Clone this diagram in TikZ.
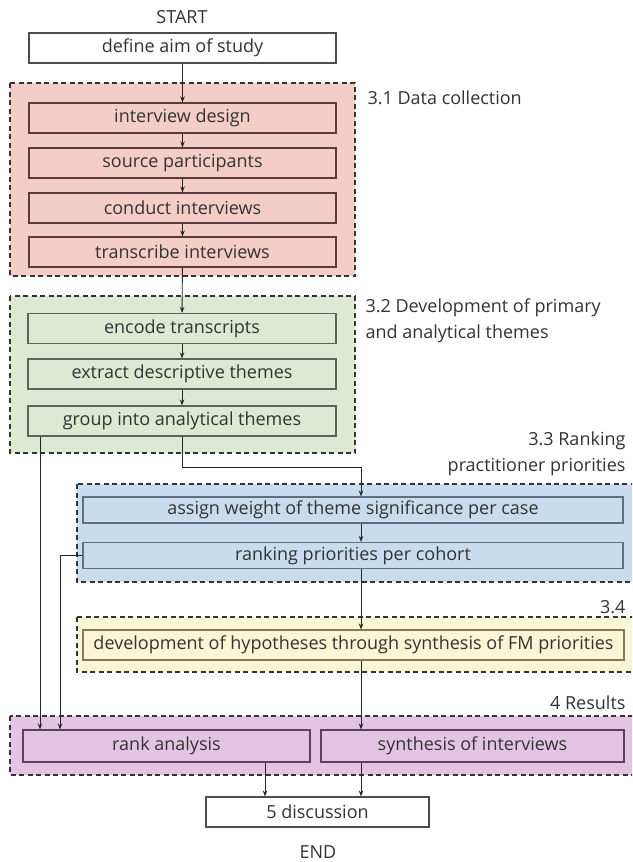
\documentclass[tikz,border=0pt]{standalone}
\usepackage{fontspec}
\setmainfont{Open Sans}
\usetikzlibrary{arrows.meta}

\definecolor{redfill}{HTML}{F4CDC7}
\definecolor{greenfill}{HTML}{DDE9D3}
\definecolor{bluefill}{HTML}{C9DCEE}
\definecolor{yellowfill}{HTML}{FAF5D5}
\definecolor{purplefill}{HTML}{E4C4E5}
\definecolor{redline}{HTML}{5A3C3C}
\definecolor{greenline}{HTML}{56665A}
\definecolor{blueline}{HTML}{5E6E7E}
\definecolor{yellowline}{HTML}{85795A}
\definecolor{purpleline}{HTML}{5C4262}
\definecolor{txt}{HTML}{333333}

\begin{document}
\begin{tikzpicture}[x=1pt, y=-1pt,
  font=\fontsize{18}{21}\selectfont, text=txt,
  box/.style={draw, line width=1.1pt, minimum height=30pt, inner sep=0pt},
  grp/.style={draw=black!80, line width=1.3pt, dash pattern=on 5pt off 3.5pt},
  arr/.style={-{Stealth[length=6pt,width=4.5pt]}, line width=0.9pt, draw=black!85}]
\useasboundingbox (0,0) rectangle (632,862);
\clip (0,0) rectangle (632,862);

% Groups
\draw[grp, fill=redfill] (10,83) rectangle (355,276);
\draw[grp, fill=greenfill] (10,296) rectangle (355,453);
\draw[grp, fill=bluefill] (77,484) rectangle (645,582);
\draw[grp, fill=yellowfill] (77,617) rectangle (645,672);
\draw[grp, fill=purplefill] (10,716) rectangle (645,775);

% Group labels
\node[anchor=west] (l31) at (364,98) {3.1 Data collection};
\node[anchor=north west, align=left, font=\fontsize{18}{26}\selectfont] (l32) at (362,295) {3.2 Development of primary\\and analytical themes};
\node[anchor=east, align=right, font=\fontsize{18}{26}\selectfont] (l33) at (629,454) {3.3 Ranking\\practitioner priorities};
\node[anchor=east] (l34) at (629,607) {3.4};
\node[anchor=east] (l4) at (629,703) {4 Results};

% Start
\node (start) at (182,17) {START};
\node[box, draw=black!70, fill=white, minimum width=307pt] (aim) at (182.5,48) {define aim of study};

% 3.1
\node[box, draw=redline, fill=redfill, minimum width=307pt] (design) at (182.5,118) {interview design};
\node[box, draw=redline, fill=redfill, minimum width=307pt] (source) at (182.5,163) {source participants};
\node[box, draw=redline, fill=redfill, minimum width=307pt] (conduct) at (182.5,208) {conduct interviews};
\node[box, draw=redline, fill=redfill, minimum width=307pt] (transcribe) at (182.5,252) {transcribe interviews};

% 3.2
\node[box, draw=greenline, fill=greenfill, minimum width=308pt] (encode) at (182,328.5) {encode transcripts};
\node[box, draw=greenline, fill=greenfill, minimum width=308pt] (extract) at (182,374) {extract descriptive themes};
\node[box, draw=greenline, fill=greenfill, minimum width=308pt] (group) at (182,421) {group into analytical themes};

% 3.3
\node[box, draw=blueline, fill=bluefill, minimum width=540pt, minimum height=26pt] (assign) at (353,510) {assign weight of theme significance per case};
\node[box, draw=blueline, fill=bluefill, minimum width=540pt, minimum height=26pt] (ranking) at (353,555.5) {ranking priorities per cohort};

% 3.4
\node[box, draw=yellowline, fill=yellowfill, minimum width=541pt] (develop) at (353.5,645) {development of hypotheses through synthesis of FM priorities};

% 4
\node[box, draw=purpleline, fill=purplefill, minimum width=287pt, minimum height=32pt] (rank) at (166.5,746) {rank analysis};
\node[box, draw=purpleline, fill=purplefill, minimum width=303pt, minimum height=32pt] (synth) at (472.5,746) {synthesis of interviews};

% End
\node[box, draw=black!70, fill=white, minimum width=223pt] (discuss) at (317.5,812) {5 discussion};
\node (end) at (318,852) {END};

% Columns for the connectors
\coordinate (cmid) at (361,0);
\coordinate (cleft) at (40,0);
\coordinate (cleft2) at (60,0);
\coordinate (crank) at (265,0);

% Arrows
\draw[arr] (aim) -- (design);
\draw[arr] (design) -- (source);
\draw[arr] (source) -- (conduct);
\draw[arr] (conduct) -- (transcribe);
\draw[arr] (transcribe) -- (encode);
\draw[arr] (encode) -- (extract);
\draw[arr] (extract) -- (group);
\draw[arr] (group.south) -- ++(0,31) -| (assign.north -| cmid);
\draw[arr] (assign.south -| cmid) -- (ranking.north -| cmid);
\draw[arr] (ranking.south -| cmid) -- (develop.north -| cmid);
\draw[arr] (develop.south -| cmid) -- (synth.north -| cmid);
\draw[arr] (group.south -| cleft) -- (rank.north -| cleft);
\draw[arr] (ranking.west) -| (rank.north -| cleft2);
\draw[arr] (rank.south -| crank) -- (discuss.north -| crank);
\draw[arr] (synth.south -| cmid) -- (discuss.north -| cmid);
\end{tikzpicture}
\end{document}
